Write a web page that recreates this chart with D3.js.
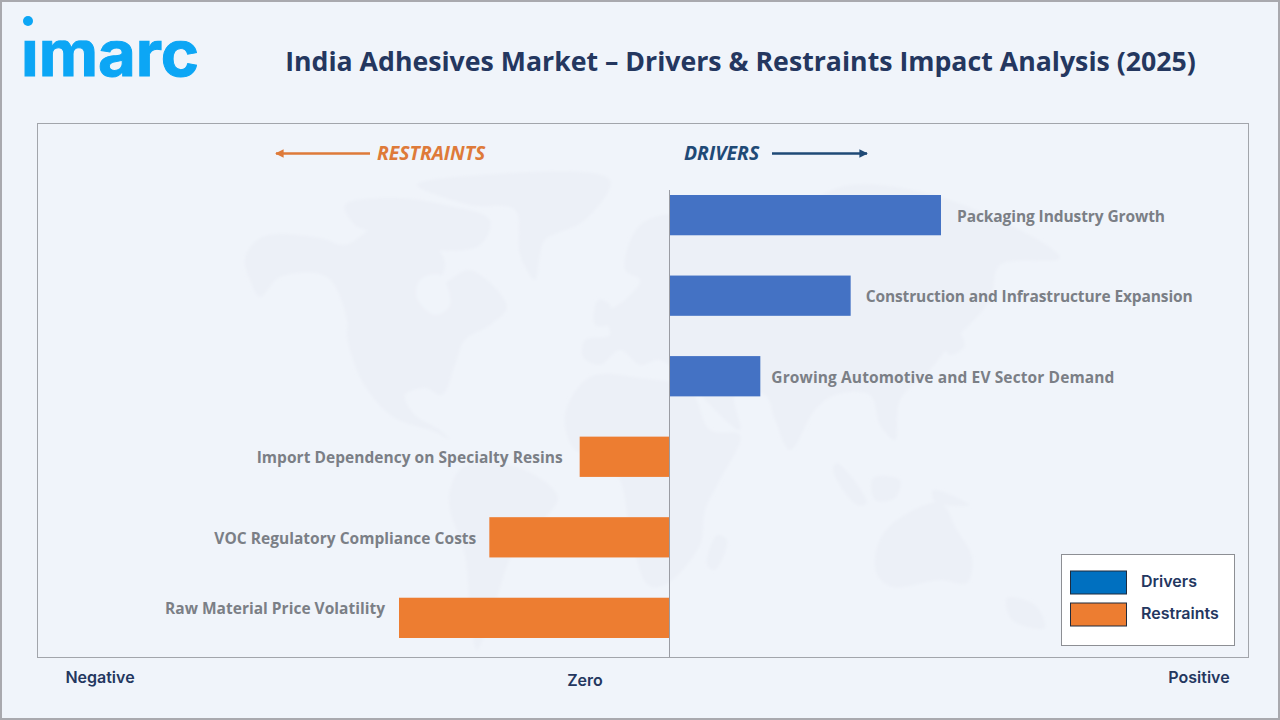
<!DOCTYPE html>
<html>
<head>
<meta charset="utf-8">
<script src="https://cdn.jsdelivr.net/npm/d3@7/dist/d3.min.js"></script>
<style>
  html, body { margin: 0; padding: 0; background: #f0f4fa; }
  svg { display: block; }
</style>
</head>
<body>
<svg id="chart" width="1280" height="720"></svg>
<script>
// Impact factors, listed top to bottom, on a -3..3 impact score
const categories = [
  "Packaging Industry Growth",
  "Construction and Infrastructure Expansion",
  "Growing Automotive and EV Sector Demand",
  "Import Dependency on Specialty Resins",
  "VOC Regulatory Compliance Costs",
  "Raw Material Price Volatility"
];
const impactValues = [3, 2, 1, -1, -2, -3];
const legendLabels = ["Drivers", "Restraints"];
const directionLabels = ["Negative", "Zero", "Positive"];

// Faint backdrop world map, outlines in map units
const landNorthAmerica = [[0,78],[17,57],[75,58],[100,65],[130,48],[175,52],[200,82],[195,105],[225,90],[262,127],[245,145],[220,160],[210,185],[197,215],[180,208],[160,215],[170,235],[195,250],[205,260],[190,252],[148,237],[118,203],[102,157],[102,140],[82,97],[35,97],[15,117],[5,100]];
const landArctic = [[100,25],[150,18],[200,25],[245,40],[235,65],[190,70],[140,55],[110,45]];
const landGreenland = [[172,5],[235,-5],[365,0],[340,40],[300,60],[295,75],[290,100],[275,75],[270,30],[225,25]];
const landSouthAmerica = [[205,310],[218,287],[272,287],[313,317],[295,343],[268,373],[252,417],[232,470],[225,430],[220,375],[205,330]];
const landAfrica = [[345,197],[395,198],[445,210],[465,250],[495,255],[475,300],[460,330],[455,365],[420,405],[403,405],[385,350],[375,300],[355,275],[330,270],[320,235]];
const landEurasia = [[338,177],[340,160],[365,155],[360,135],[380,120],[395,100],[380,90],[395,45],[435,35],[455,55],[470,45],[555,25],[605,5],[705,20],[815,78],[755,85],[745,120],[705,165],[685,190],[655,220],[650,260],[635,245],[625,215],[590,215],[570,230],[545,270],[530,240],[520,215],[490,215],[495,250],[455,215],[435,195],[415,180],[395,185],[375,170],[355,185]];
const landIslands = [
  [[592,283],[622,323],[612,325],[588,290]],
  [[628,298],[655,300],[650,318],[630,320]],
  [[688,310],[725,325],[690,322]],
  [[703,140],[720,165],[705,175],[698,160]],
  [[353,120],[365,125],[362,145],[350,145]],
  [[472,355],[482,360],[470,390],[462,385]],
  [[762,418],[790,425],[800,448],[767,440]]
];
const landAustralia = [[632,367],[648,343],[695,323],[712,350],[727,377],[722,403],[695,400],[648,407],[632,395]];
const waterHudson = [[175,100],[195,95],[205,125],[190,135],[172,118]];

const svg = d3.select("#chart");
const NAVY = "#24375f";

const mapX = d3.scaleLinear().domain([0, 815]).range([245, 1060]);
const mapY = d3.scaleLinear().domain([0, 470]).range([180, 650]);
const outline = d3.line().x(d => mapX(d[0])).y(d => mapY(d[1]))
  .curve(d3.curveCatmullRomClosed.alpha(0.5));

const defs = svg.append("defs");
defs.append("filter").attr("id", "soft")
  .append("feGaussianBlur").attr("stdDeviation", 1.4);
defs.append("clipPath").attr("id", "wordmarkStems")
  .append("rect").attr("x", 0).attr("y", 40.5).attr("width", 240).attr("height", 50);
defs.append("marker").attr("id", "headOrange").attr("viewBox", "0 0 10 10")
  .attr("refX", 9).attr("refY", 5).attr("markerWidth", 4).attr("markerHeight", 3.4)
  .attr("orient", "auto-start-reverse")
  .append("path").attr("d", "M0,0L10,5L0,10Z").attr("fill", "#de7a39");
defs.append("marker").attr("id", "headNavy").attr("viewBox", "0 0 10 10")
  .attr("refX", 9).attr("refY", 5).attr("markerWidth", 4).attr("markerHeight", 3.4)
  .attr("orient", "auto-start-reverse")
  .append("path").attr("d", "M0,0L10,5L0,10Z").attr("fill", "#1f4a76");

// Page background and outer border
svg.append("rect").attr("x", 1).attr("y", 1).attr("width", 1278).attr("height", 718)
  .attr("fill", "#f0f4fa").attr("stroke", "#a9a9ae").attr("stroke-width", 2);

// Backdrop map
const mapLayer = svg.append("g").attr("filter", "url(#soft)");
mapLayer.selectAll("path.land")
  .data([landNorthAmerica, landArctic, landGreenland, landSouthAmerica, landAfrica, landEurasia, ...landIslands, landAustralia])
  .join("path").attr("class", "land").attr("d", outline).attr("fill", "#ecf0f7");
mapLayer.append("path").attr("d", outline(waterHudson)).attr("fill", "#f0f4fa");

// Plot frame
svg.append("rect").attr("x", 37.5).attr("y", 123.5).attr("width", 1211).attr("height", 534)
  .attr("fill", "none").attr("stroke", "#a2a5ab").attr("stroke-width", 1);

// Title and wordmark
svg.append("text").attr("x", 740.5).attr("y", 70.5).attr("text-anchor", "middle")
  .attr("font-family", "'Open Sans'").attr("font-weight", 700).attr("font-size", 26.7)
  .attr("fill", NAVY).text("India Adhesives Market – Drivers & Restraints Impact Analysis (2025)");
svg.append("text").attr("x", 21).attr("y", 75.5).attr("textLength", 178)
  .attr("lengthAdjust", "spacingAndGlyphs")
  .attr("font-family", "Inter").attr("font-weight", 700).attr("font-size", 64)
  .attr("fill", "#0ca6f5").attr("stroke", "#0ca6f5").attr("stroke-width", 1)
  .attr("clip-path", "url(#wordmarkStems)").text("imarc");
svg.append("circle").attr("cx", 28).attr("cy", 21).attr("r", 5).attr("fill", "#0ca6f5");

// Scales
const x = d3.scaleLinear().domain([-3, 3]).range([399, 941]);
const y = d3.scaleBand().domain(categories).range([195, 638]).paddingInner(0.5).paddingOuter(0);

// Bars
svg.append("g").selectAll("rect")
  .data(categories)
  .join("rect")
  .attr("x", (d, i) => x(Math.min(0, impactValues[i])))
  .attr("y", d => y(d))
  .attr("width", (d, i) => Math.abs(x(impactValues[i]) - x(0)))
  .attr("height", y.bandwidth())
  .attr("fill", (d, i) => impactValues[i] > 0 ? "#4472c4" : "#ed7d31");

// Zero line
svg.append("line").attr("x1", x(0) - 0.5).attr("x2", x(0) - 0.5).attr("y1", 190).attr("y2", 657)
  .attr("stroke", "#9a9ca3").attr("stroke-width", 1);

// Factor labels beside each bar
const labelGap = [16, 15, 11, 17, 13, 14];
const labelLift = [0, 0, 0, 0, 0, 10];
const labelWidth = [208, 327, 343, 306, 262, 220];
svg.append("g").selectAll("text")
  .data(categories)
  .join("text")
  .attr("x", (d, i) => x(impactValues[i]) + (impactValues[i] > 0 ? labelGap[i] : -labelGap[i]))
  .attr("y", (d, i) => y(d) + y.bandwidth() / 2 + 6.5 - labelLift[i])
  .attr("text-anchor", (d, i) => impactValues[i] > 0 ? "start" : "end")
  .attr("textLength", (d, i) => labelWidth[i])
  .attr("font-family", "'Open Sans'").attr("font-weight", 700).attr("font-size", 15.5)
  .attr("fill", "#7b7f86")
  .text(d => d);

// Direction headings with arrows
svg.append("text").attr("x", 377).attr("y", 160)
  .attr("font-family", "'Open Sans'").attr("font-weight", 700).attr("font-style", "italic").attr("font-size", 19.4)
  .attr("fill", "#de7a39").text("RESTRAINTS");
svg.append("line").attr("x1", 370).attr("x2", 276).attr("y1", 153.5).attr("y2", 153.5)
  .attr("stroke", "#de7a39").attr("stroke-width", 2.5).attr("marker-end", "url(#headOrange)");
svg.append("text").attr("x", 684).attr("y", 160)
  .attr("font-family", "'Open Sans'").attr("font-weight", 700).attr("font-style", "italic").attr("font-size", 19.4)
  .attr("fill", "#1f4a76").text("DRIVERS");
svg.append("line").attr("x1", 772).attr("x2", 867).attr("y1", 153.5).attr("y2", 153.5)
  .attr("stroke", "#1f4a76").attr("stroke-width", 2.5).attr("marker-end", "url(#headNavy)");

// Axis direction captions
const captionX = [100, 585, 1199];
const captionY = [682.5, 685.5, 682.5];
svg.append("g").selectAll("text")
  .data(directionLabels)
  .join("text")
  .attr("x", (d, i) => captionX[i]).attr("y", (d, i) => captionY[i])
  .attr("text-anchor", "middle")
  .attr("font-family", "Inter").attr("font-weight", 600).attr("font-size", 16)
  .attr("fill", NAVY).text(d => d);

// Legend
svg.append("rect").attr("x", 1061.5).attr("y", 554.5).attr("width", 173).attr("height", 91)
  .attr("fill", "#ffffff").attr("stroke", "#8d8f94").attr("stroke-width", 1);
const legendFill = ["#0070c0", "#ed7d31"];
const legendRow = d3.scalePoint().domain(legendLabels).range([582.5, 614.5]);
const legend = svg.append("g").selectAll("g").data(legendLabels).join("g");
legend.append("rect")
  .attr("x", 1070.5).attr("y", d => legendRow(d) - 11.5)
  .attr("width", 56).attr("height", 23)
  .attr("fill", (d, i) => legendFill[i]).attr("stroke", "#1f2b3d").attr("stroke-width", 1);
legend.append("text")
  .attr("x", 1141).attr("y", d => legendRow(d) + 4)
  .attr("font-family", "Inter").attr("font-weight", 600).attr("font-size", 16)
  .attr("fill", NAVY).text(d => d);
</script>
</body>
</html>
